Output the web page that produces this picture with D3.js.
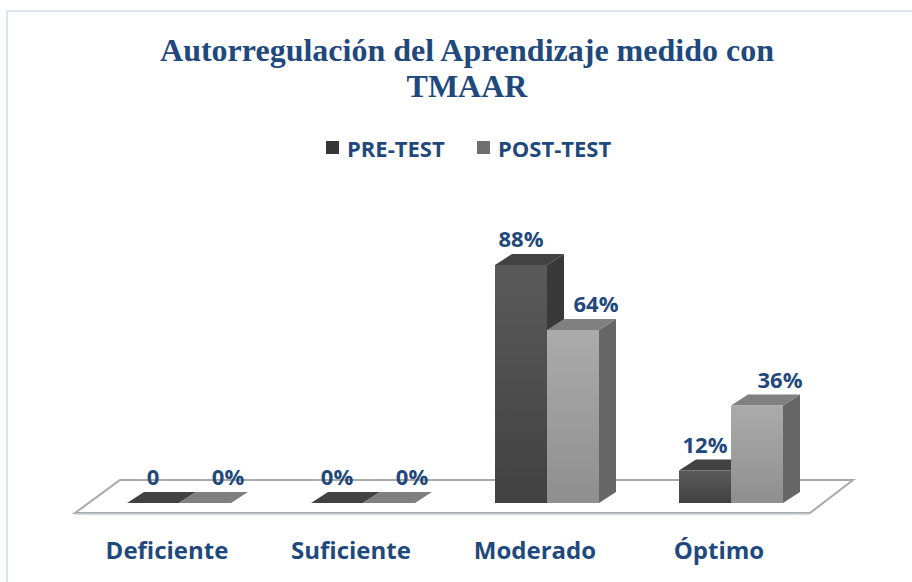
<!DOCTYPE html>
<html>
<head>
<meta charset="utf-8">
<script src="https://cdn.jsdelivr.net/npm/d3@7"></script>
<style>
  body { margin: 0; background: #fff; }
  svg { display: block; }
</style>
</head>
<body>
<div id="chart"></div>
<script>
// data
const categories = ["Deficiente", "Suficiente", "Moderado", "Óptimo"];
const seriesNames = ["PRE-TEST", "POST-TEST"];
const preTest = [0, 0, 88, 12];
const postTest = [0, 0, 64, 36];
const preLabels = ["0", "0%", "88%", "12%"];
const postLabels = ["0%", "0%", "64%", "36%"];
const titleLines = ["Autorregulación del Aprendizaje medido con", "TMAAR"];

const W = 912, H = 582;
const blue = "#1F497D";
const dx = 17, dy = -11; // 3d depth offset

const svg = d3.select("#chart").append("svg")
    .attr("width", W)
    .attr("height", H);

const defs = svg.append("defs");
function grad(id, top, bottom) {
    const g = defs.append("linearGradient").attr("id", id)
        .attr("x1", 0).attr("y1", 0).attr("x2", 0).attr("y2", 1);
    g.append("stop").attr("offset", "0%").attr("stop-color", top);
    g.append("stop").attr("offset", "100%").attr("stop-color", bottom);
}
grad("gPre", "#5a5a5a", "#414141");
grad("gPost", "#ababab", "#8f8f8f");

const styles = {
    "PRE-TEST": { front: "url(#gPre)", side: "#393939", top: "#424242", swatch: "#353535" },
    "POST-TEST": { front: "url(#gPost)", side: "#666666", top: "#808080", swatch: "#6f6f6f" }
};

// frame
svg.append("rect")
    .attr("x", 7).attr("y", 11)
    .attr("width", W + 10).attr("height", H + 10)
    .attr("fill", "none")
    .attr("stroke", "#dbe5f1")
    .attr("stroke-width", 2);

// title
svg.append("text")
    .attr("x", 467).attr("y", 61)
    .attr("text-anchor", "middle")
    .attr("font-family", "'Liberation Serif', 'Times New Roman', serif")
    .attr("font-weight", "bold")
    .attr("font-size", 32)
    .attr("fill", blue)
    .selectAll("tspan")
    .data(titleLines)
    .enter().append("tspan")
    .attr("x", 467)
    .attr("dy", (d, i) => i === 0 ? 0 : 36)
    .text(d => d);

// legend
const legend = svg.append("g").attr("font-family", "'Open Sans', sans-serif")
    .attr("font-weight", "bold").attr("font-size", 22).attr("fill", blue);
const legendX = [326, 477];
seriesNames.forEach((s, i) => {
    legend.append("rect")
        .attr("x", legendX[i]).attr("y", 141)
        .attr("width", 13).attr("height", 13)
        .attr("fill", styles[s].swatch);
    legend.append("text")
        .attr("x", legendX[i] + 21).attr("y", 157)
        .text(s);
});

// scales
const x = d3.scaleBand().domain(categories).range([87, 823]);
const xs = d3.scaleBand().domain(seriesNames).range([-52, 52]);
const y = d3.scaleLinear().domain([0, 100]).range([503, 232.5]);

// floor
const y0 = y(0);
const floorPts = [
    [x.range()[0] - 12, y0 + 10],
    [x.range()[1] - 13, y0 + 10],
    [x.range()[1] + 30, y0 - 23],
    [x.range()[0] + 33, y0 - 23]
];
svg.append("polygon")
    .attr("points", floorPts.map(p => p.join(",")).join(" "))
    .attr("fill", "#ffffff")
    .attr("stroke", "#a9a9a9")
    .attr("stroke-width", 2);
svg.append("line")
    .attr("x1", floorPts[0][0]).attr("y1", floorPts[0][1] + 1)
    .attr("x2", floorPts[1][0]).attr("y2", floorPts[1][1] + 1)
    .attr("stroke", "#c5cfdc").attr("stroke-width", 1.5);

// bars
const rows = categories.map((c, i) => ({
    cat: c,
    vals: [
        { s: "PRE-TEST", v: preTest[i], label: preLabels[i] },
        { s: "POST-TEST", v: postTest[i], label: postLabels[i] }
    ]
}));

const bars = svg.append("g");
rows.forEach(r => {
    const cx = x(r.cat) + x.bandwidth() / 2;
    r.vals.forEach(d => {
        const x0 = cx + xs(d.s), x1 = x0 + xs.bandwidth();
        const yt = y(d.v);
        const st = styles[d.s];
        const g = bars.append("g");
        g.append("rect")
            .attr("x", x0).attr("y", yt)
            .attr("width", x1 - x0).attr("height", y0 - yt)
            .attr("fill", st.front);
        g.append("polygon")
            .attr("points", [[x1, yt], [x1 + dx, yt + dy], [x1 + dx, y0 + dy], [x1, y0]].map(p => p.join(",")).join(" "))
            .attr("fill", st.side);
        g.append("polygon")
            .attr("points", [[x0, yt], [x1, yt], [x1 + dx, yt + dy], [x0 + dx, yt + dy]].map(p => p.join(",")).join(" "))
            .attr("fill", st.top);
    });
});

// value labels
const labels = svg.append("g").attr("font-family", "'Open Sans', sans-serif")
    .attr("font-weight", "bold").attr("font-size", 22).attr("fill", blue)
    .attr("text-anchor", "middle");
rows.forEach(r => {
    const cx = x(r.cat) + x.bandwidth() / 2;
    r.vals.forEach((d, j) => {
        const lx = cx + xs(d.s) + xs.bandwidth() / 2 + (j === 1 ? 23 : 0);
        labels.append("text")
            .attr("x", lx)
            .attr("y", y(d.v) + dy - 7)
            .text(d.label);
    });
});

// category labels
svg.append("g").attr("font-family", "'Open Sans', sans-serif")
    .attr("font-weight", "bold").attr("font-size", 24).attr("fill", blue)
    .attr("text-anchor", "middle")
    .selectAll("text")
    .data(categories)
    .enter().append("text")
    .attr("x", d => x(d) + x.bandwidth() / 2 - 12)
    .attr("y", 559)
    .text(d => d);
</script>
</body>
</html>
